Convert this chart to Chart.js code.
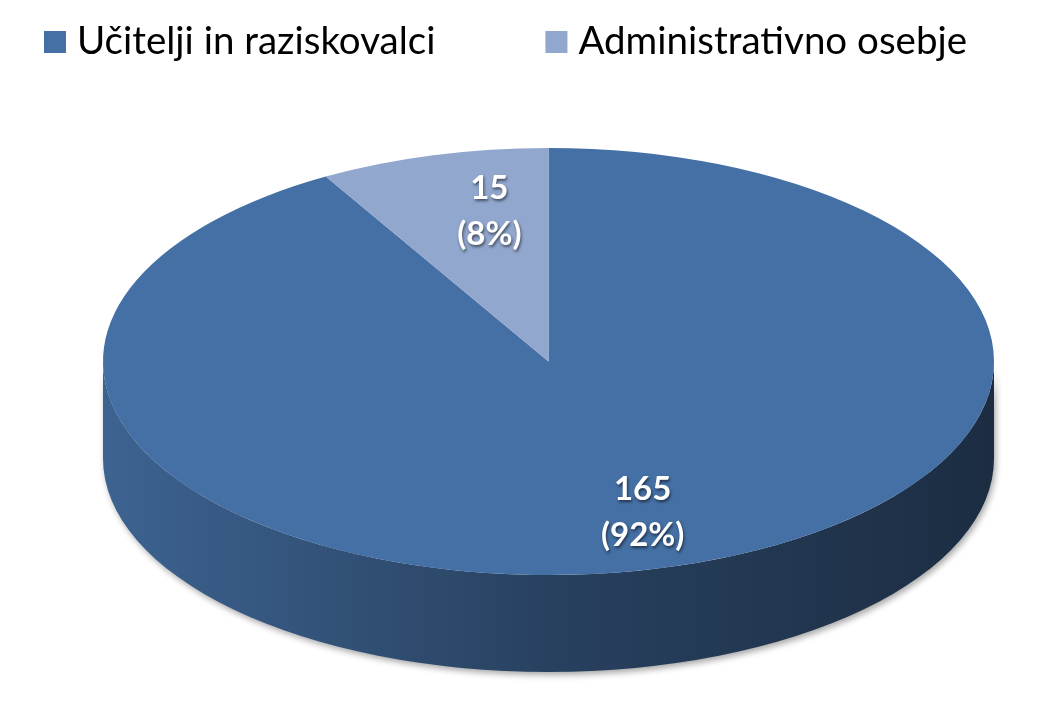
<!DOCTYPE html>
<html>
<head>
<meta charset="utf-8">
<script src="https://cdn.jsdelivr.net/npm/chart.js@4/dist/chart.umd.min.js"></script>
<style>
  html, body { margin: 0; padding: 0; background: #fff; }
  #wrap { width: 1045px; height: 702px; position: relative; }
</style>
</head>
<body>
<div id="wrap"><canvas id="pie"></canvas></div>
<script>
// data
const categories = ['Učitelji in raziskovalci', 'Administrativno osebje']
const counts = [165, 15]
const topColors = ['#4570A5', '#91A7CE']

// darken a hex colour by a factor
function shade (hex, f) {
  const n = parseInt(hex.slice(1), 16)
  const r = Math.round(((n >> 16) & 255) * f)
  const g = Math.round(((n >> 8) & 255) * f)
  const b = Math.round((n & 255) * f)
  return `rgb(${r},${g},${b})`
}

// fake 3d pie: squash the arcs into an ellipse and draw the rim below
const pie3d = {
  id: 'pie3d',
  geom (chart, opts) {
    const i = opts.inset
    const left = i.left, right = chart.width - i.right
    const top = i.top, bottom = chart.height - i.bottom
    const rx = (right - left) / 2
    const ry = (bottom - top - opts.depth) / 2
    return { ex: left + rx, ey: top + ry, rx, ry, depth: opts.depth }
  },
  beforeDatasetsDraw (chart, args, opts) {
    const ctx = chart.ctx
    const g = this.geom(chart, opts)
    const meta = chart.getDatasetMeta(0)
    const twoPi = Math.PI * 2

    // rim (only front half is visible)
    meta.data.forEach((arc, idx) => {
      const base = topColors[idx]
      const grad = ctx.createLinearGradient(g.ex - g.rx, 0, g.ex + g.rx, 0)
      grad.addColorStop(0, shade(base, 0.88))
      grad.addColorStop(0.5, shade(base, 0.58))
      grad.addColorStop(1, shade(base, 0.4))
      for (let k = -1; k <= 1; k++) {
        const a = Math.max(arc.startAngle, k * twoPi)
        const b = Math.min(arc.endAngle, k * twoPi + Math.PI)
        if (b <= a) continue
        ctx.save()
        ctx.shadowColor = 'rgba(0,0,0,0.35)'
        ctx.shadowBlur = 6
        ctx.shadowOffsetX = 2
        ctx.shadowOffsetY = 3
        ctx.beginPath()
        ctx.ellipse(g.ex, g.ey, g.rx, g.ry, 0, a, b)
        ctx.ellipse(g.ex, g.ey + g.depth, g.rx, g.ry, 0, b, a, true)
        ctx.closePath()
        ctx.fillStyle = grad
        ctx.fill()
        ctx.restore()
      }
    })

    // top face
    const arc0 = meta.data[0]
    ctx.save()
    ctx.translate(g.ex, g.ey)
    ctx.scale(g.rx / arc0.outerRadius, g.ry / arc0.outerRadius)
    ctx.translate(-arc0.x, -arc0.y)
  },
  afterDatasetsDraw (chart, args, opts) {
    const ctx = chart.ctx
    ctx.restore()
    const g = this.geom(chart, opts)
    const meta = chart.getDatasetMeta(0)
    const total = counts.reduce((s, v) => s + v, 0)

    // data labels
    ctx.save()
    ctx.font = 'bold 33px Lato'
    ctx.fillStyle = '#fff'
    ctx.textAlign = 'center'
    ctx.textBaseline = 'middle'
    ctx.shadowColor = 'rgba(0,0,0,0.55)'
    ctx.shadowBlur = 3
    ctx.shadowOffsetX = 1
    ctx.shadowOffsetY = 2
    meta.data.forEach((arc, idx) => {
      const mid = (arc.startAngle + arc.endAngle) / 2
      const x = g.ex + g.rx * opts.labelRadius * Math.cos(mid) + opts.labelShift[idx]
      const y = g.ey + g.ry * opts.labelRadius * Math.sin(mid)
      const pct = Math.round(counts[idx] / total * 100)
      ctx.fillText(String(counts[idx]), x, y - 23)
      ctx.fillText(`(${pct}%)`, x, y + 23)
    })
    ctx.restore()
  }
}

// one-row legend with a wide gap between the entries
const wideLegend = {
  id: 'wideLegend',
  afterDraw (chart, args, opts) {
    const ctx = chart.ctx
    const ds = chart.data.datasets[0]
    ctx.save()
    ctx.font = `${opts.size}px Lato`
    ctx.textBaseline = 'middle'
    const widths = chart.data.labels.map(t => ctx.measureText(t).width)
    const total = widths.reduce((s, w) => s + opts.box + opts.boxGap + w, 0) + opts.itemGap * (widths.length - 1)
    let x = chart.width / 2 + opts.shift - total / 2
    chart.data.labels.forEach((t, i) => {
      ctx.fillStyle = ds.backgroundColor[i]
      ctx.fillRect(x, opts.y - opts.box / 2, opts.box, opts.box)
      x += opts.box + opts.boxGap
      ctx.fillStyle = '#000'
      ctx.fillText(t, x, opts.y)
      x += widths[i] + opts.itemGap
    })
    ctx.restore()
  }
}

const chart = new Chart(document.getElementById('pie'), {
  type: 'pie',
  data: {
    labels: categories,
    datasets: [{
      data: counts,
      backgroundColor: topColors,
      borderWidth: 0
    }]
  },
  options: {
    responsive: true,
    maintainAspectRatio: false,
    animation: false,
    plugins: {
      legend: { display: false },
      tooltip: { enabled: false },
      wideLegend: { size: 38.5, box: 22, boxGap: 11, itemGap: 110, y: 42, shift: -17 },
      pie3d: {
        depth: 97,
        labelRadius: 0.73,
        labelShift: [10, 25],
        inset: { left: 103, right: 51, top: 148, bottom: 30 }
      }
    }
  },
  plugins: [pie3d, wideLegend]
})
</script>
</body>
</html>
